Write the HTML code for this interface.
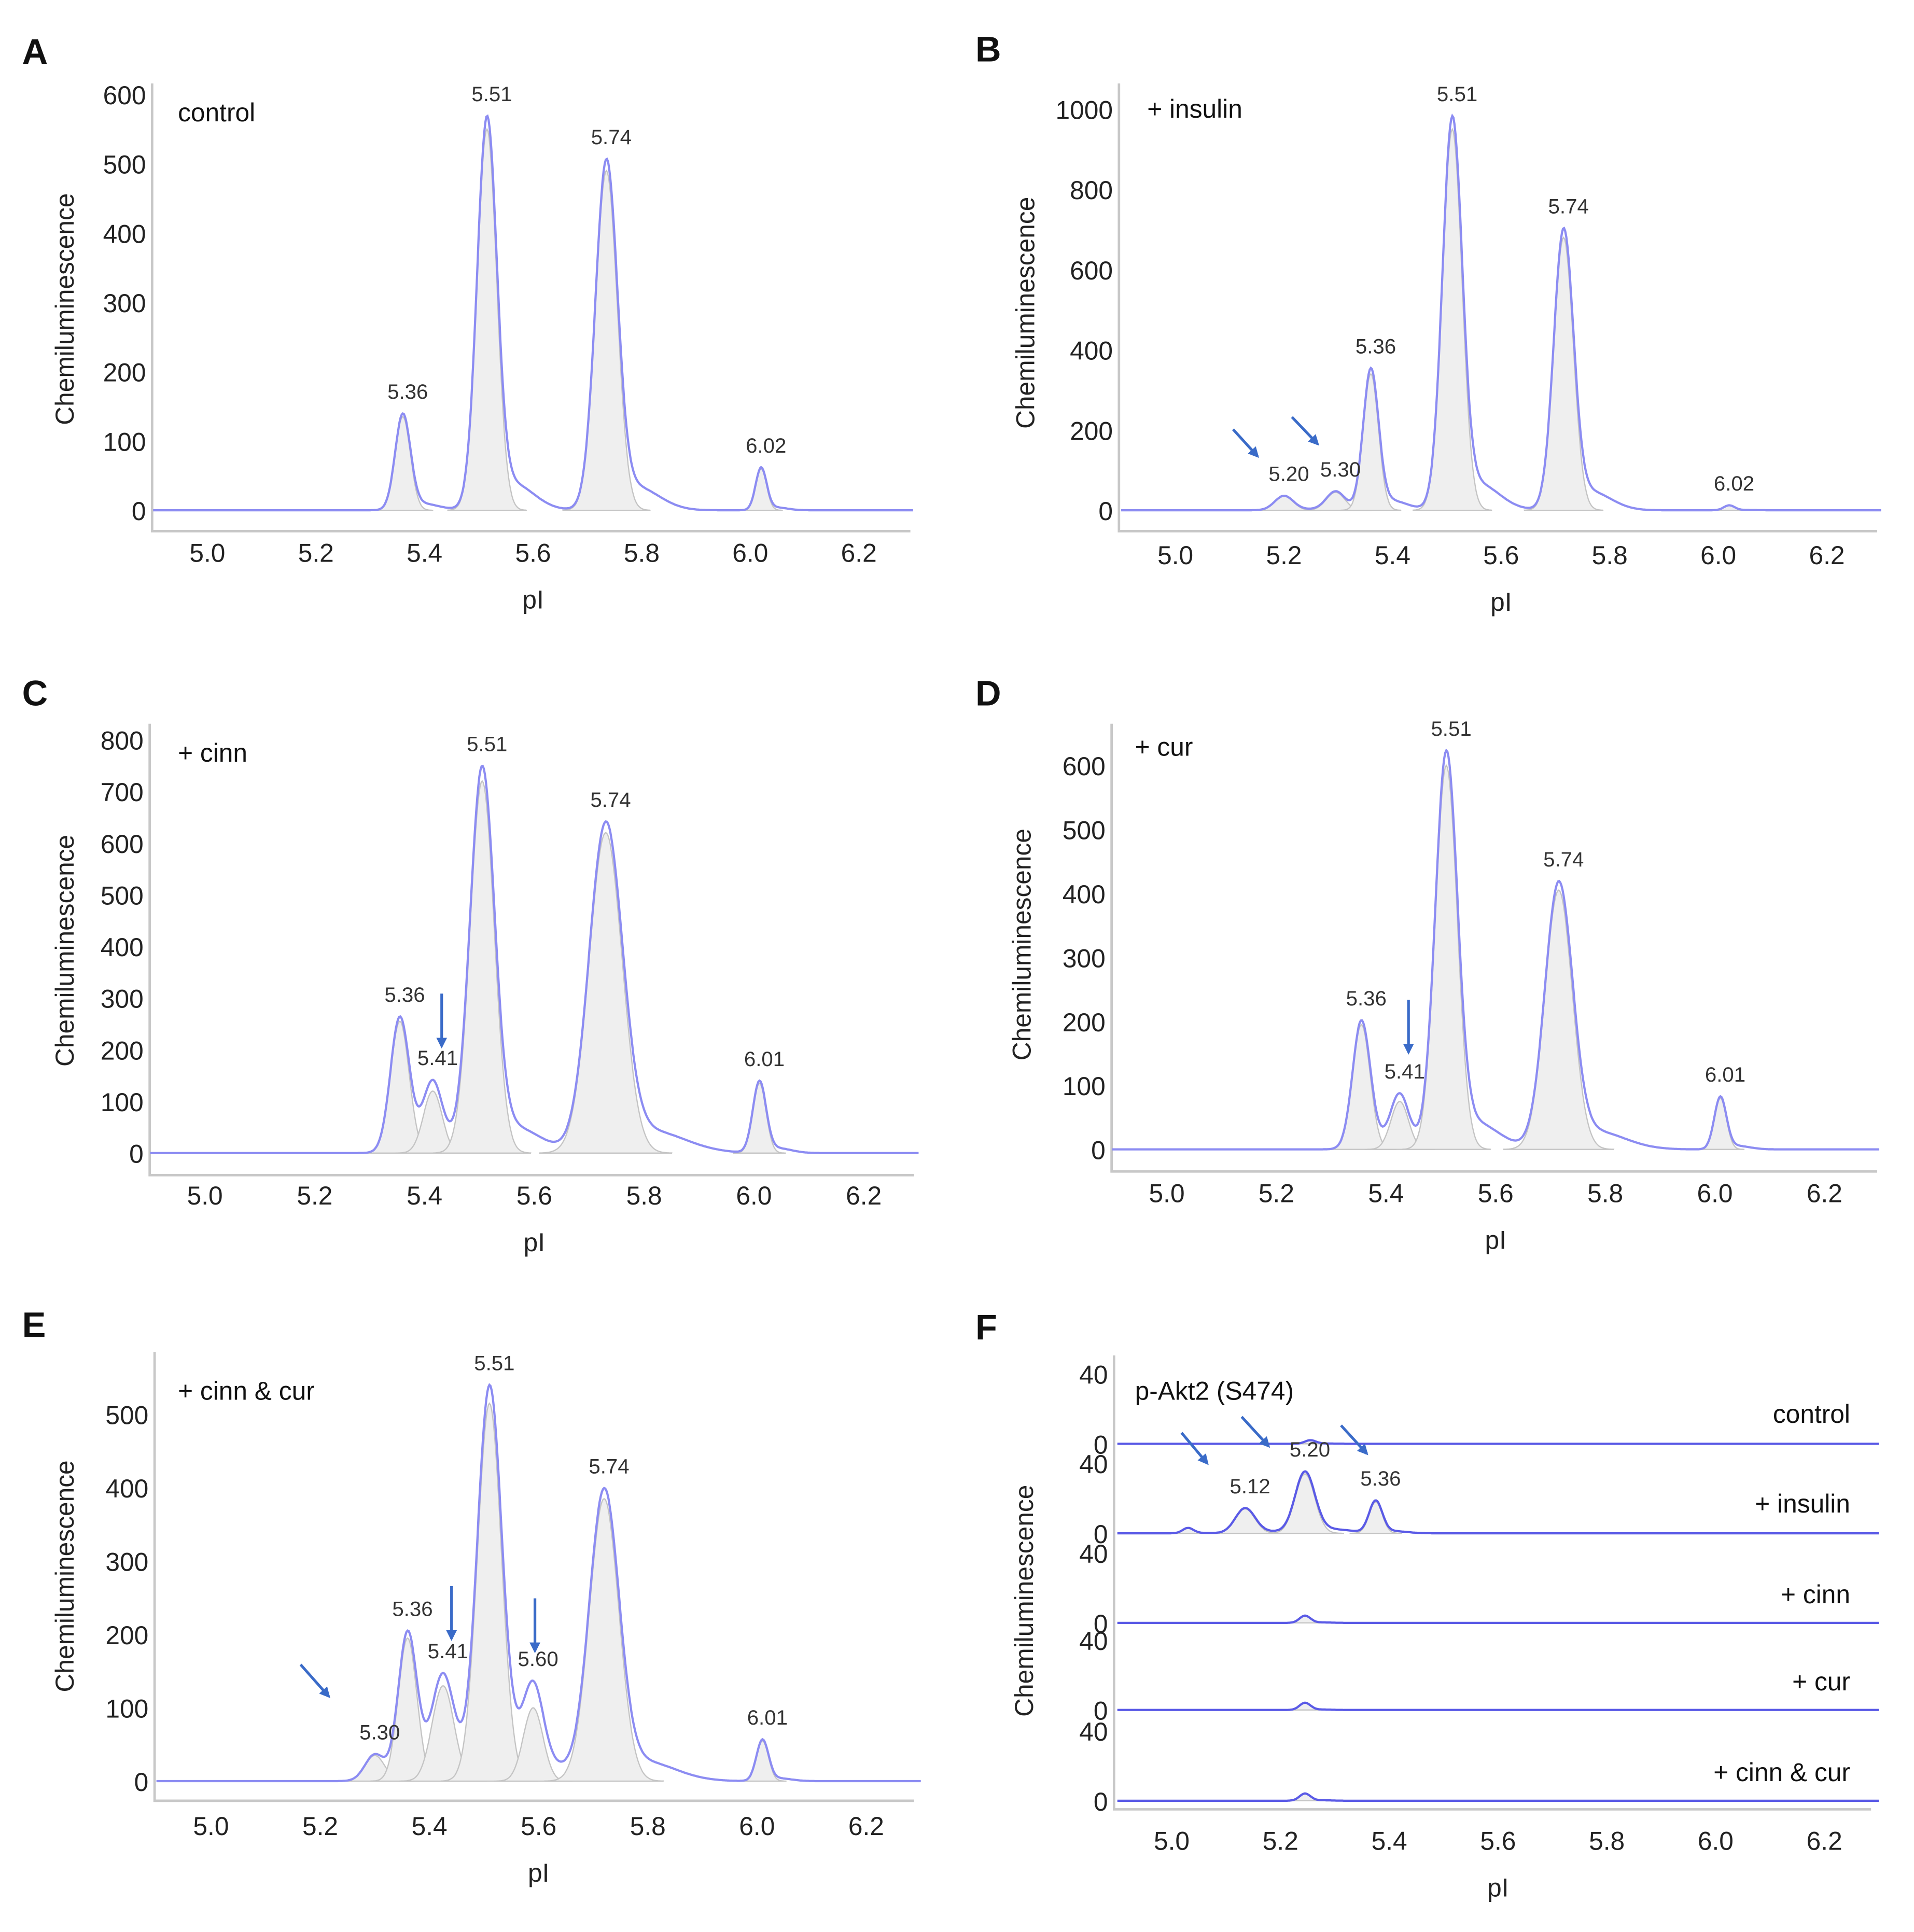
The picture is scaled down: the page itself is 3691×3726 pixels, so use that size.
<!DOCTYPE html>
<html><head><meta charset="utf-8"><style>
html,body{margin:0;padding:0;background:#fff;}
svg{display:block;}
text{font-family:"Liberation Sans",sans-serif;}
</style></head><body>
<svg id="fig" width="3691" height="3726" viewBox="0 0 1560 1575" preserveAspectRatio="none" xmlns="http://www.w3.org/2000/svg">
<defs><marker id="ah" viewBox="0 0 10 10" refX="8" refY="5" markerWidth="4" markerHeight="4" orient="auto"><path d="M0,0 L10,5 L0,10 z" fill="#3a6bc8"/></marker></defs>
</svg>
<script>
// ---- data ----
const aCenters=[5.36,5.515,5.735,6.02], aHeights=[135,550,490,60], aWidths=[0.014,0.018,0.02,0.01];
const aLabels=["5.36","5.51","5.74","6.02"];
const bCenters=[5.20,5.295,5.36,5.51,5.715,6.02], bHeights=[35,45,340,950,680,12], bWidths=[0.017,0.017,0.014,0.018,0.018,0.01];
const bLabels=["5.20","5.30","5.36","5.51","5.74","6.02"];
const cCenters=[5.355,5.415,5.505,5.73,6.01], cHeights=[255,120,720,620,135], cWidths=[0.017,0.017,0.022,0.03,0.012];
const cLabels=["5.36","5.41","5.51","5.74","6.01"];
const dCenters=[5.355,5.425,5.51,5.715,6.01], dHeights=[195,75,600,405,80], dWidths=[0.016,0.016,0.02,0.025,0.011];
const dLabels=["5.36","5.41","5.51","5.74","6.01"];
const eCenters=[5.30,5.36,5.425,5.51,5.59,5.72,6.01], eHeights=[35,195,130,515,100,385,55], eWidths=[0.018,0.017,0.02,0.022,0.018,0.027,0.011];
const eLabels=["5.30","5.36","5.41","5.51","5.60","5.74","6.01"];
const fNames=["control","+ insulin","+ cinn","+ cur","+ cinn & cur"];
const fCenters=[[5.255],[5.03,5.135,5.245,5.375],[5.245],[5.245],[5.245]];
const fHeights=[[2],[3,14,34,18],[4],[4],[4]];
const fWidths=[[0.01],[0.01,0.018,0.018,0.012],[0.01],[0.01],[0.01]];
const fLabels=[[],["","5.12","5.20","5.36"],[],[],[]];
const xTicks=[5.0,5.2,5.4,5.6,5.8,6.0,6.2];
const aTicks=[0,100,200,300,400,500,600], bTicks=[0,200,400,600,800,1000], cTicks=[0,100,200,300,400,500,600,700,800], dTicks=[0,100,200,300,400,500,600], eTicks=[0,100,200,300,400,500];

const NS="http://www.w3.org/2000/svg", svg=document.getElementById('fig');
function mk(tag,at,txt){const e=document.createElementNS(NS,tag);for(const k in at)e.setAttribute(k,at[k]);if(txt!==undefined)e.textContent=txt;return e;}
function gauss(x,c,h,w){return h*Math.exp(-0.5*((x-c)/w)**2);}
function total(x,C,H,W){let s=0;for(let i=0;i<C.length;i++){s+=gauss(x,C[i],H[i],W[i]);s+=gauss(x,C[i]+W[i]*2.6,H[i]*0.07,W[i]*2.2);}return s;}

function panel(o){
  const g=mk('g',{});
  
  
  svg.appendChild(g);
  const X=v=>o.x5+(v-5)*o.kx, Y=v=>o.y0-v*o.ky;
  const L=mk('text',{x:o.lx,y:o.ly,'font-size':29,'font-weight':'bold',fill:'#111'},o.letter);
  g.appendChild(L);
  const ax=mk('path',{d:`M${o.axL},${o.top} V${o.axB} H${o.axR}`,stroke:'#c8c8c8','stroke-width':2,fill:'none'});
  g.appendChild(ax);
  xTicks.forEach(t=>{const e=mk('text',{x:X(t),y:o.xty,'font-size':21,'text-anchor':'middle',fill:'#222'},t.toFixed(1));
    g.appendChild(e);});
  const xl=mk('text',{x:X(5.6),y:o.xty+38,'font-size':21,'text-anchor':'middle',fill:'#222'},'pI');
  g.appendChild(xl);
  const yl=mk('text',{x:0,y:0,'font-size':21,'text-anchor':'middle',fill:'#222',transform:`translate(${o.ytx},${o.yty}) rotate(-90)`},'Chemiluminescence');
  g.appendChild(yl);
  return {g,X,Y};
}
function peaks(o,P,C,H,W,labels,y0,ky,col){
  const X=P.X, Y=v=>y0-v*ky;
  for(let i=0;i<C.length;i++){let d=`M${X(C[i]-4*W[i])},${Y(0)}`;
    for(let x=C[i]-4*W[i];x<=C[i]+4*W[i];x+=0.002)d+=` L${X(x).toFixed(1)},${Y(gauss(x,C[i],H[i],W[i])).toFixed(1)}`;
    d+=` L${X(C[i]+4*W[i])},${Y(0)} Z`;
    const p=mk('path',{d,fill:'#efefef',stroke:'#c4c4c4','stroke-width':1});
    P.g.appendChild(p);}
  let d='';for(let x=4.9;x<=6.3001;x+=0.002){d+=(d?' L':'M')+X(x).toFixed(1)+','+Y(total(x,C,H,W)).toFixed(1);}
  const tr=mk('path',{d,fill:'none',stroke:col||'#8c8cf2','stroke-width':1.8});
  P.g.appendChild(tr);
  labels.forEach((lb,i)=>{if(!lb)return;const t=mk('text',{x:X(C[i])+4,y:Y(total(C[i],C,H,W))-12,'font-size':17,'text-anchor':'middle',fill:'#333'},lb);
    P.g.appendChild(t);});
}
function yticks(P,ticks,y0,ky,xr){ticks.forEach(t=>{const e=mk('text',{x:xr,y:y0-t*ky+8,'font-size':21,'text-anchor':'end',fill:'#222'},String(t));
  P.g.appendChild(e);});}
function label(P,x,y,s,anchor){const t=mk('text',{x,y,'font-size':21,fill:'#111','text-anchor':anchor||'start'},s);
  P.g.appendChild(t);}
function arrow(P,x1,y1,x2,y2){const a=mk('line',{x1,y1,x2,y2,stroke:'#3a6bc8','stroke-width':2.2,'marker-end':'url(#ah)'});
  P.g.appendChild(a);}

function std(o,C,H,W,Lb,ticks,maxv){const P=panel(o);o.ky=(o.y0-o.ytop)/maxv;yticks(P,ticks,o.y0,o.ky,o.axL-5);peaks(o,P,C,H,W,Lb,o.y0,o.ky);return P;}
const kx=442.5;
let P;
P=std({name:'panel-a',letter:'A',lx:18,ly:52,x5:169,kx,y0:416,ytop:77,axL:124,axR:742,top:68,axB:433,xty:458,ytx:60,yty:252},aCenters,aHeights,aWidths,aLabels,aTicks,600);
label(P,145,99,'control');
P=std({name:'panel-b',letter:'B',lx:795,ly:50,x5:958,kx,y0:416,ytop:89,axL:912,axR:1530,top:68,axB:433,xty:460,ytx:843,yty:255},bCenters,bHeights,bWidths,bLabels,bTicks,1000);
label(P,935,96,'+ insulin');arrow(P,1005,350,1025,372);arrow(P,1053,340,1074,362);
P=std({name:'panel-c',letter:'C',lx:18,ly:575,x5:167,kx:447.5,y0:940,ytop:603,axL:122,axR:745,top:590,axB:958,xty:982,ytx:60,yty:775},cCenters,cHeights,cWidths,cLabels,cTicks,800);
label(P,145,621,'+ cinn');arrow(P,360,810,360,853);
P=std({name:'panel-d',letter:'D',lx:795,ly:575,x5:951,kx:446.7,y0:937,ytop:624,axL:906,axR:1530,top:590,axB:955,xty:980,ytx:840,yty:770},dCenters,dHeights,dWidths,dLabels,dTicks,600);
label(P,925,616,'+ cur');arrow(P,1148,815,1148,858);
P=std({name:'panel-e',letter:'E',lx:18,ly:1090,x5:172,kx:445,y0:1452,ytop:1153,axL:126,axR:745,top:1102,axB:1468,xty:1496,ytx:60,yty:1285},eCenters,eHeights,eWidths,eLabels,eTicks,500);
label(P,145,1141,'+ cinn & cur');arrow(P,245,1357,268,1383);arrow(P,368,1293,368,1336);arrow(P,436,1303,436,1346);
// panel F
P=panel({name:'panel-f',letter:'F',lx:795,ly:1092,x5:955,kx:443.3,axL:908,axR:1525,top:1105,axB:1475,xty:1508,ytx:842,yty:1305});
const fBase=[1177,1250,1323,1394,1468], fky=57/40, fLabY=[1160,1233,1307,1378,1452];
fNames.forEach((n,i)=>{yticks(P,[0,40],fBase[i],fky,903);peaks({},P,fCenters[i],fHeights[i],fWidths[i],fLabels[i],fBase[i],fky,'#5a5ae6');label(P,1508,fLabY[i],n,'end');});
label(P,925,1141,'p-Akt2 (S474)');arrow(P,963,1168,984,1193);arrow(P,1012,1155,1034,1179);arrow(P,1093,1162,1114,1185);
</script>
</body></html>
